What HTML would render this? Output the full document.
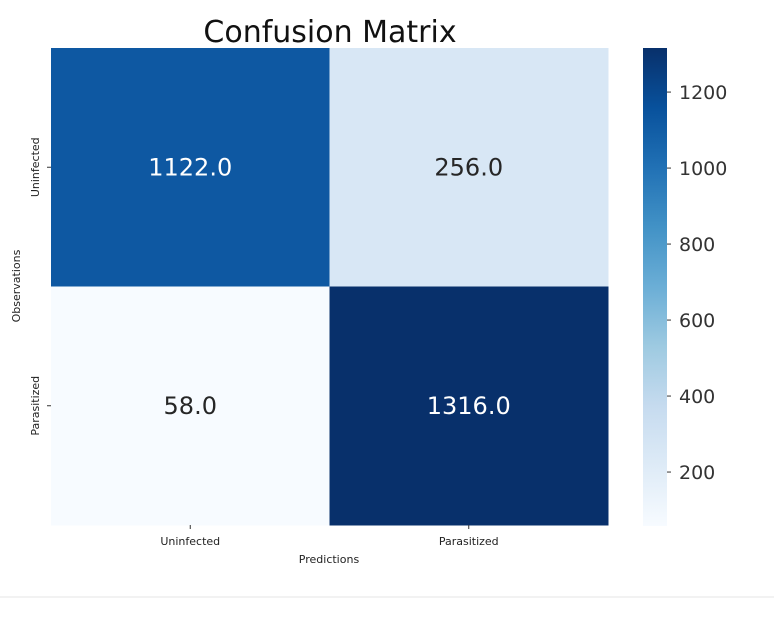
<!DOCTYPE html>
<html><head><meta charset="utf-8"><style>
body{margin:0;background:#fff;width:774px;height:640px;overflow:hidden;font-family:"DejaVu Sans","Liberation Sans",sans-serif}
</style></head><body>
<svg id="chart" width="774" height="640">
<text x="330" y="42" text-anchor="middle" font-size="30" fill="#111">Confusion Matrix</text>
<g id="cells"></g><g id="cbar"></g><g id="axes"></g>
<text x="329" y="563" text-anchor="middle" font-size="11" fill="#222">Predictions</text>
<text transform="translate(20,286) rotate(-90)" text-anchor="middle" font-size="11" fill="#222">Observations</text>
<rect x="0" y="596" width="774" height="2" fill="#f2f2f2"/>
</svg>
<script>
const rowLabels=["Uninfected","Parasitized"];
const colLabels=["Uninfected","Parasitized"];
const values=[[1122,256],[58,1316]];
const cbarTicks=[200,400,600,800,1000,1200];
const NS="http://www.w3.org/2000/svg";
const L=51,T=48,W=557,H=477;
const flat=values.flat();const vmin=Math.min(...flat),vmax=Math.max(...flat);
const stops=["#f7fbff","#deebf7","#c6dbef","#9ecae1","#6baed6","#4292c6","#2171b5","#08519c","#08306b"];
function hex(h){return [1,3,5].map(i=>parseInt(h.substr(i,2),16));}
function cmap(t){t=Math.max(0,Math.min(1,t));const p=t*(stops.length-1);const i=Math.min(stops.length-2,Math.floor(p));const f=p-i;const a=hex(stops[i]),b=hex(stops[i+1]);return "rgb("+a.map((v,k)=>Math.round(v+(b[k]-v)*f)).join(",")+")";}
function mk(tag,attrs,parent){const e=document.createElementNS(NS,tag);for(const k in attrs)e.setAttribute(k,attrs[k]);parent.appendChild(e);return e;}
const cw=W/colLabels.length,ch=H/rowLabels.length;
const cells=document.getElementById("cells"),axes=document.getElementById("axes"),cbar=document.getElementById("cbar");
values.forEach((row,r)=>row.forEach((v,c)=>{
 const t=(v-vmin)/(vmax-vmin);
 const rc=mk("rect",{x:L+c*cw,y:T+r*ch,width:cw+0.5,height:ch+0.5,fill:cmap(t)},cells);
 
 
 const tx=mk("text",{x:L+(c+0.5)*cw,y:T+(r+0.5)*ch+8,"text-anchor":"middle","font-size":24,fill:t>0.5?"#fff":"#262626"},cells);
 tx.textContent=v.toFixed(1);
 
 
}));
colLabels.forEach((l,c)=>{const x=L+(c+0.5)*cw;
 mk("line",{x1:x,x2:x,y1:T+H,y2:T+H+4,stroke:"#333"},axes);
 const t=mk("text",{x:x,y:T+H+20,"text-anchor":"middle","font-size":11,fill:"#222"},axes);t.textContent=l;
 
 });
rowLabels.forEach((l,r)=>{const y=T+(r+0.5)*ch;
 mk("line",{x1:L-4,x2:L,y1:y,y2:y,stroke:"#333"},axes);
 const t=mk("text",{transform:"translate("+(L-12)+","+y+") rotate(-90)","text-anchor":"middle","font-size":11,fill:"#222"},axes);t.textContent=l;
 
 });
const CX=643,CW=24,CT=48,CB=526;
const defs=mk("defs",{},cbar);const g=mk("linearGradient",{id:"bl",x1:0,y1:1,x2:0,y2:0},defs);
stops.forEach((s,i)=>mk("stop",{offset:i/(stops.length-1),"stop-color":s},g));
const cr=mk("rect",{x:CX,y:CT,width:CW,height:CB-CT,fill:"url(#bl)"},cbar);


const cy=v=>CB-(v-vmin)/(vmax-vmin)*(CB-CT);
cbarTicks.forEach(v=>{const y=cy(v);
 mk("line",{x1:CX+CW,x2:CX+CW+4,y1:y,y2:y,stroke:"#333"},cbar);
 const t=mk("text",{x:CX+CW+12,y:y+7,"font-size":19,fill:"#333"},cbar);t.textContent=v;
 
 });
</script>
</body></html>
